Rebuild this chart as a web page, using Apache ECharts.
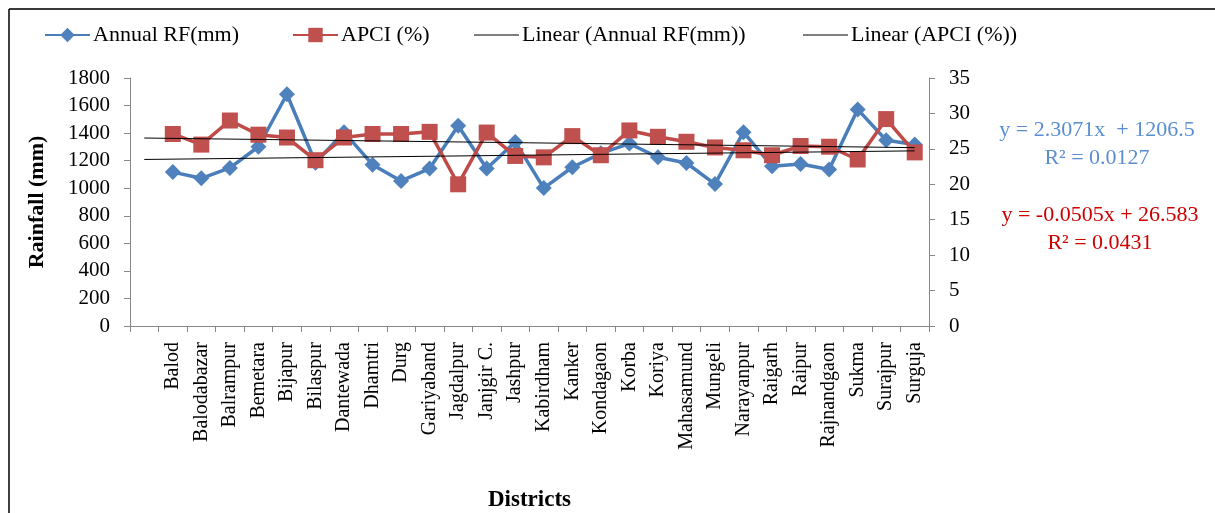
<!DOCTYPE html>
<html>
<head>
<meta charset="utf-8">
<script src="https://cdn.jsdelivr.net/npm/echarts@6/dist/echarts.min.js"></script>
<style>
html,body{margin:0;padding:0;background:#fff;}
#chart{width:1215px;height:513px;}
</style>
</head>
<body>
<div id="chart"></div>
<script>
var categories = ["", "Balod", "Balodabazar", "Balrampur", "Bemetara", "Bijapur", "Bilaspur", "Dantewada", "Dhamtri", "Durg", "Gariyaband", "Jagdalpur", "Janjgir C.", "Jashpur", "Kabirdham", "Kanker", "Kondagaon", "Korba", "Koriya", "Mahasamund", "Mungeli", "Narayanpur", "Raigarh", "Raipur", "Rajnandgaon", "Sukma", "Surajpur", "Surguja"];
var annualRF = [null, 1117, 1072, 1147, 1301, 1682, 1185, 1407, 1171, 1053, 1143, 1454, 1143, 1336, 1001, 1152, 1253, 1324, 1225, 1183, 1030, 1407, 1159, 1176, 1136, 1572, 1348, 1317];
var apci = [null, 27.1, 25.6, 29.0, 27.0, 26.6, 23.4, 26.6, 27.1, 27.1, 27.4, 20.0, 27.3, 24.0, 23.8, 26.8, 24.1, 27.6, 26.7, 26.0, 25.2, 24.8, 24.1, 25.4, 25.3, 23.5, 29.2, 24.5];
var trendRF = [[0, 1208.8], [27, 1271.1]];
var trendAPCI = [[0, 26.53], [27, 25.17]];
var leftTicks = {min: 0, max: 1800, interval: 200};
var rightTicks = {min: 0, max: 35, interval: 5};

var FONT = "'Liberation Serif', 'Times New Roman', serif";
var chart = echarts.init(document.getElementById('chart'), null, {renderer: 'canvas'});
function legendAt(name, left, isTrend) {
  var item = isTrend ? {name: name, icon: 'rect', itemStyle: {color: '#000'}} : {name: name};
  return {
    data: [item], left: left, top: 19, itemWidth: 45,
    itemHeight: isTrend ? 1.2 : 18, itemGap: 0,
    textStyle: {fontFamily: FONT, fontSize: 22, color: '#000', padding: [0, 0, 0, -2]}
  };
}
var plain = function (v) { return String(v); };
var option = {
  backgroundColor: '#fff',
  animation: false,
  textStyle: {fontFamily: FONT},
  legend: [
    legendAt('Annual RF(mm)', 39, false),
    legendAt('APCI (%)', 287, false),
    legendAt('Linear (Annual RF(mm))', 469, true),
    legendAt('Linear (APCI (%))', 798, true)
  ],
  grid: {left: 130, right: 286, top: 78, bottom: 181, containLabel: false},
  xAxis: {
    type: 'category', data: categories, boundaryGap: true,
    name: 'Districts', nameLocation: 'middle', nameGap: 163,
    nameTextStyle: {fontFamily: FONT, fontSize: 23, fontWeight: 'bold', color: '#000'},
    axisLine: {lineStyle: {color: '#888', width: 1}},
    axisTick: {show: true, length: 6, lineStyle: {color: '#888'}},
    axisLabel: {interval: 0, rotate: 90, fontFamily: FONT, fontSize: 20, color: '#000', margin: 16}
  },
  yAxis: [
    {
      type: 'value', min: leftTicks.min, max: leftTicks.max, interval: leftTicks.interval,
      name: 'Rainfall (mm)', nameLocation: 'middle', nameGap: 82,
      nameTextStyle: {fontFamily: FONT, fontSize: 22, fontWeight: 'bold', color: '#000'},
      axisLine: {show: true, lineStyle: {color: '#888'}},
      axisTick: {show: true, length: 6, lineStyle: {color: '#888'}},
      splitLine: {show: false},
      axisLabel: {fontFamily: FONT, fontSize: 21, color: '#000', margin: 20, formatter: plain}
    },
    {
      type: 'value', position: 'right', min: rightTicks.min, max: rightTicks.max, interval: rightTicks.interval,
      axisLine: {show: true, lineStyle: {color: '#888'}},
      axisTick: {show: true, length: 6, lineStyle: {color: '#888'}},
      splitLine: {show: false},
      axisLabel: {fontFamily: FONT, fontSize: 21, color: '#000', margin: 20, formatter: plain}
    }
  ],
  series: [
    {
      name: 'Annual RF(mm)', type: 'line', yAxisIndex: 0, data: annualRF,
      symbol: 'diamond', symbolSize: [16, 16], showSymbol: true,
      lineStyle: {color: '#4A7EBB', width: 3.5},
      itemStyle: {color: '#4F81BD'}, z: 3
    },
    {
      name: 'APCI (%)', type: 'line', yAxisIndex: 1, data: apci,
      symbol: 'rect', symbolSize: 16, showSymbol: true,
      lineStyle: {color: '#BE4B48', width: 3.5},
      itemStyle: {color: '#C0504D'}, z: 4
    },
    {
      name: 'Linear (Annual RF(mm))', type: 'line', yAxisIndex: 0, data: trendRF,
      symbol: 'none', lineStyle: {color: '#000', width: 1}, itemStyle: {color: '#000'}, z: 5
    },
    {
      name: 'Linear (APCI (%))', type: 'line', yAxisIndex: 1, data: trendAPCI,
      symbol: 'none', lineStyle: {color: '#000', width: 1}, itemStyle: {color: '#000'}, z: 5
    }
  ],
  graphic: [
    {type: 'line', shape: {x1: 9, y1: 9, x2: 1215, y2: 9}, style: {stroke: '#3a3a3a', lineWidth: 2}},
    {type: 'line', shape: {x1: 9, y1: 9, x2: 9, y2: 513}, style: {stroke: '#000', lineWidth: 1.5}},
    {type: 'text', x: 1097, y: 130, style: {text: 'y = 2.3071x  + 1206.5', fill: '#5A8ED0', font: '22px ' + FONT, textAlign: 'center', textVerticalAlign: 'middle'}},
    {type: 'text', x: 1097, y: 158, style: {text: 'R² = 0.0127', fill: '#5A8ED0', font: '22px ' + FONT, textAlign: 'center', textVerticalAlign: 'middle'}},
    {type: 'text', x: 1100, y: 215, style: {text: 'y = -0.0505x + 26.583', fill: '#CC0000', font: '22px ' + FONT, textAlign: 'center', textVerticalAlign: 'middle'}},
    {type: 'text', x: 1100, y: 243, style: {text: 'R² = 0.0431', fill: '#CC0000', font: '22px ' + FONT, textAlign: 'center', textVerticalAlign: 'middle'}}
  ]
};
chart.setOption(option);
</script>
</body>
</html>
